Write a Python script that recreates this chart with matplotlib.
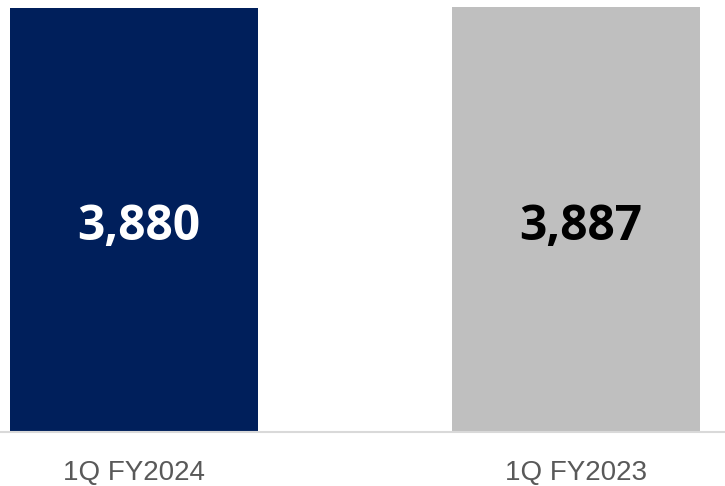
import matplotlib.pyplot as plt

periods = ['1Q FY2024', '1Q FY2023']
values = [3880, 3887]
bar_colors = ['#001F5B', '#BFBFBF']
text_colors = ['white', 'black']

fig = plt.figure(figsize=(7.25, 4.86), dpi=100)
ax = fig.add_axes([0, 1 - 432 / 486, 1, 432 / 486])

x = range(len(values))
ax.bar(x, values, width=0.561, color=bar_colors)

# value labels sit a little below the middle of each bar
for i, v in enumerate(values):
    ax.text(i + 0.01, v * 0.452, f'{v:,}', ha='center', va='baseline',
            fontsize=34.5, fontweight='bold', color=text_colors[i],
            family=['Open Sans', 'DejaVu Sans'])

ax.set_xlim(-0.303, 1.337)
ax.set_ylim(0, 3951)
ax.set_yticks([])
ax.set_xticks(list(x))
ax.set_xticklabels(periods, fontsize=20, color='#595959',
                   family=['Liberation Sans Narrow', 'Liberation Sans', 'DejaVu Sans'])
ax.tick_params(axis='x', length=0, pad=20)

for side in ['top', 'left', 'right']:
    ax.spines[side].set_visible(False)
ax.spines['bottom'].set_color('#D9D9D9')
ax.spines['bottom'].set_linewidth(1.5)

fig.savefig('out.png', dpi=100)
